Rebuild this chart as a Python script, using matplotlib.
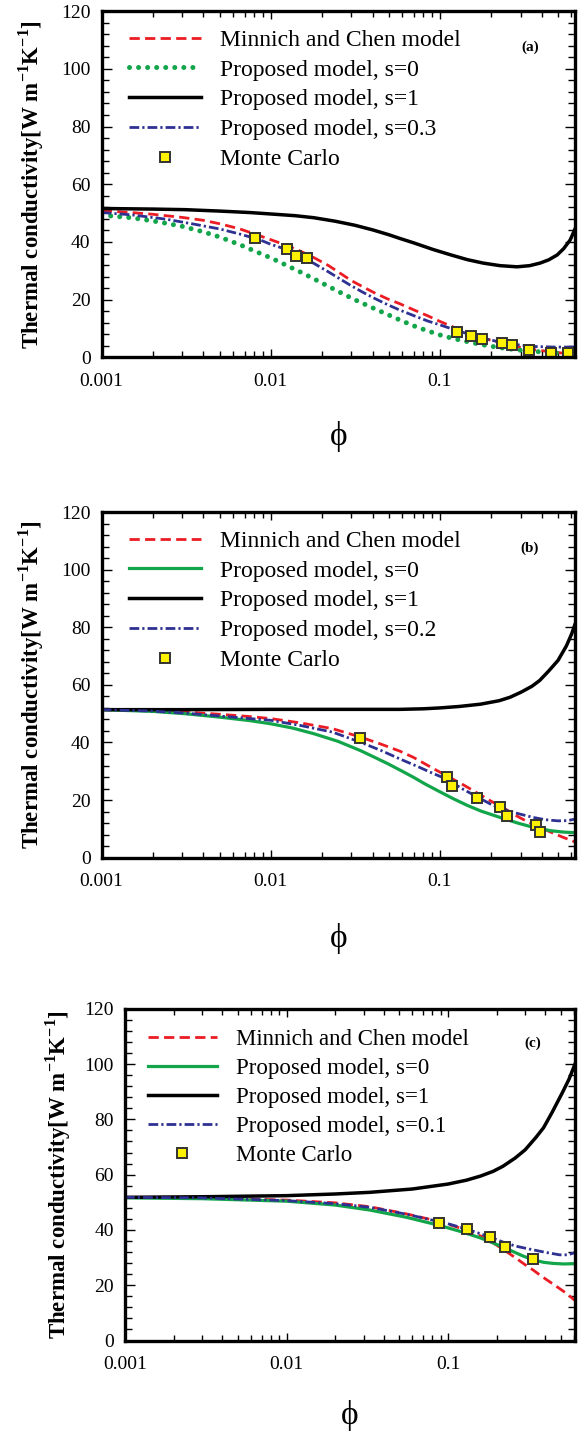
import numpy as np
import matplotlib
matplotlib.use('Agg')
import matplotlib.pyplot as plt
from matplotlib.ticker import FixedLocator, LogLocator, MultipleLocator, NullFormatter

plt.rcParams['font.family'] = ['Liberation Serif', 'DejaVu Serif']
plt.rcParams['mathtext.fontset'] = 'custom'
plt.rcParams['mathtext.rm'] = 'Liberation Serif'
plt.rcParams['mathtext.bf'] = 'Liberation Serif:bold'

RED = '#ec1c24'
GREEN = '#12a54a'
BLUE = '#2e3192'

x_ticks = [0.001, 0.01, 0.1]
x_tick_labels = ['0.001', '0.01', '0.1']
y_ticks = [0, 20, 40, 60, 80, 100, 120]

# ---- panel (a), s=0.3 ----
a_red_phi = [0.001, 0.0015, 0.002, 0.003, 0.004, 0.005, 0.0065, 0.008, 0.01, 0.0127, 0.015, 0.0181, 0.022,
             0.026, 0.03, 0.035, 0.041, 0.049, 0.058, 0.07, 0.085, 0.1, 0.125, 0.15, 0.18, 0.22, 0.286, 0.35,
             0.448, 0.63]
a_red_k = [50.8, 50.2, 49.6, 48.5, 47.5, 46.3, 44.6, 42.8, 40.8, 38.6, 36.8, 34.5, 31.8,
           29.0, 26.6, 24.5, 22.4, 20.3, 18.6, 16.5, 14.4, 12.5, 10.1, 8.4, 6.7, 5.3, 3.7, 2.8,
           2.0, 1.0]
a_green_phi = [0.001, 0.0015, 0.002, 0.0025, 0.003, 0.004, 0.005, 0.0066, 0.008, 0.01, 0.012, 0.0145, 0.0175,
               0.021, 0.026, 0.0314, 0.04, 0.0494, 0.06, 0.074, 0.09, 0.105, 0.13, 0.174, 0.22, 0.288, 0.38,
               0.476, 0.63]
a_green_k = [49.3, 48.4, 47.3, 46.3, 45.4, 43.5, 41.7, 39.0, 36.9, 34.5, 32.3, 30.0, 27.6,
             25.2, 22.4, 20.0, 17.2, 14.8, 12.6, 10.4, 8.7, 7.4, 6.1, 4.5, 3.5, 2.6, 2.0,
             1.6, 1.4]
a_black_phi = [0.001, 0.002, 0.0031, 0.005, 0.0075, 0.01, 0.014, 0.018, 0.024, 0.0314, 0.04, 0.05, 0.0582,
               0.07, 0.0912, 0.115, 0.145, 0.18, 0.227, 0.286, 0.34, 0.392, 0.44, 0.494, 0.54, 0.59, 0.63]
a_black_k = [51.6, 51.4, 51.2, 50.7, 50.2, 49.7, 49.1, 48.4, 47.2, 45.8, 44.2, 42.5, 41.2,
             39.7, 37.4, 35.6, 33.9, 32.7, 31.8, 31.4, 31.8, 32.7, 33.8, 35.5, 37.7, 40.7, 44.5]
a_blue_phi = [0.001, 0.0015, 0.0024, 0.0035, 0.005, 0.0065, 0.0085, 0.01, 0.0127, 0.015, 0.0181, 0.022, 0.026,
              0.03, 0.035, 0.041, 0.049, 0.058, 0.07, 0.085, 0.1, 0.125, 0.15, 0.174, 0.22, 0.288, 0.36,
              0.476, 0.63]
a_blue_k = [50.2, 49.4, 47.9, 46.2, 44.5, 42.8, 40.9, 39.2, 37.2, 35.0, 32.5, 29.6, 27.0,
            24.8, 22.6, 20.5, 18.3, 16.4, 14.5, 12.6, 11.3, 9.4, 8.0, 6.9, 5.5, 4.4, 3.8,
            3.6, 3.6]
a_mc_phi = [0.00807, 0.01245, 0.01406, 0.01633, 0.1256, 0.1524, 0.1774, 0.2317, 0.268, 0.337, 0.452, 0.574]
a_mc_k = [41.5, 37.4, 35.3, 34.4, 8.9, 7.4, 6.4, 5.1, 4.2, 2.6, 1.5, 1.7]

# ---- panel (b), s=0.2 ----
b_red_phi = [0.001, 0.002, 0.0031, 0.005, 0.0075, 0.01, 0.015, 0.0232, 0.0339, 0.045, 0.058, 0.07, 0.0912,
             0.11, 0.135, 0.165, 0.2, 0.236, 0.285, 0.33, 0.37, 0.448, 0.53, 0.63]
b_red_k = [51.4, 51.1, 50.6, 49.8, 49.0, 48.3, 46.8, 44.8, 41.9, 39.4, 37.0, 34.8, 31.0,
           28.4, 25.6, 22.6, 19.7, 17.4, 14.5, 12.5, 11.2, 9.0, 7.2, 5.5]
b_green_phi = [0.001, 0.002, 0.0031, 0.005, 0.0075, 0.01, 0.0135, 0.0181, 0.025, 0.0339, 0.042, 0.0494, 0.06,
               0.07, 0.0818, 0.1, 0.12, 0.145, 0.175, 0.227, 0.29, 0.36, 0.45, 0.54, 0.63]
b_green_k = [51.4, 50.8, 50.0, 48.8, 47.6, 46.5, 45.0, 43.0, 40.4, 37.2, 34.6, 32.6, 30.0,
             27.9, 25.6, 22.9, 20.5, 18.2, 16.2, 14.0, 12.0, 10.5, 9.4, 8.9, 8.7]
b_black_phi = [0.001, 0.003, 0.01, 0.03, 0.058, 0.08, 0.1, 0.13, 0.174, 0.224, 0.26, 0.303, 0.35, 0.389,
               0.44, 0.5, 0.56, 0.6, 0.63]
b_black_k = [51.4, 51.4, 51.5, 51.5, 51.5, 51.7, 52.0, 52.5, 53.3, 54.5, 55.7, 57.5, 59.5, 61.5,
             64.8, 68.5, 73.5, 77.5, 81.0]
b_blue_phi = [0.001, 0.002, 0.0031, 0.005, 0.0075, 0.01, 0.015, 0.0232, 0.0339, 0.045, 0.058, 0.075, 0.09,
              0.1096, 0.135, 0.174, 0.2, 0.227, 0.26, 0.3, 0.356, 0.42, 0.5, 0.57, 0.63]
b_blue_k = [51.4, 50.9, 50.2, 49.2, 48.3, 47.7, 45.9, 43.6, 40.1, 37.2, 34.3, 31.5, 29.4,
            27.3, 24.0, 20.5, 18.6, 17.2, 16.1, 15.1, 14.0, 13.2, 12.8, 12.9, 13.4]
b_mc_phi = [0.0336, 0.1096, 0.1183, 0.1662, 0.2265, 0.250, 0.370, 0.391]
b_mc_k = [41.6, 27.9, 25.0, 20.8, 17.5, 14.5, 11.3, 8.9]

# ---- panel (c), s=0.1 ----
c_red_phi = [0.001, 0.003, 0.01, 0.02, 0.0327, 0.0553, 0.0889, 0.12, 0.159, 0.19, 0.219, 0.26, 0.3, 0.336,
             0.38, 0.412, 0.468, 0.536, 0.61]
c_red_k = [51.8, 51.6, 50.8, 49.8, 48.4, 45.8, 43.0, 40.6, 37.8, 35.3, 33.0, 30.0, 27.4, 25.5,
           23.2, 21.8, 19.6, 17.2, 14.5]
c_green_phi = [0.001, 0.003, 0.01, 0.02, 0.0327, 0.055, 0.0889, 0.12, 0.157, 0.19, 0.218, 0.252, 0.29,
               0.336, 0.39, 0.446, 0.52, 0.61]
c_green_k = [51.6, 51.3, 50.4, 49.0, 47.2, 44.6, 41.6, 39.4, 37.2, 35.3, 33.8, 32.2, 30.6,
             29.2, 28.3, 27.9, 27.7, 27.8]
c_black_phi = [0.001, 0.003, 0.01, 0.02, 0.0327, 0.06, 0.1, 0.13, 0.159, 0.19, 0.218, 0.26, 0.3, 0.35,
               0.39, 0.44, 0.508, 0.56, 0.61]
c_black_k = [51.8, 52.0, 52.4, 53.0, 53.6, 54.8, 56.6, 58.0, 59.5, 61.2, 63.0, 66.0, 69.0, 73.5,
             77.0, 82.5, 89.5, 94.5, 100.0]
c_blue_phi = [0.001, 0.003, 0.01, 0.02, 0.0327, 0.055, 0.0977, 0.13, 0.159, 0.19, 0.219, 0.26, 0.3, 0.336,
              0.4, 0.49, 0.55, 0.61]
c_blue_k = [51.8, 51.6, 50.6, 49.5, 48.2, 45.7, 42.4, 40.3, 38.6, 37.0, 35.6, 34.2, 33.4, 32.8,
            31.9, 31.0, 31.0, 31.8]
c_mc_phi = [0.0876, 0.131, 0.181, 0.224, 0.333]
c_mc_k = [42.6, 40.3, 37.4, 34.0, 29.5]


def panel(rect, tag, s_label, green_dotted, red, green, black, blue, mc, xmax,
          phi_y, leg_anchor, leg_fs):
    ax = fig.add_axes(rect)
    ax.set_xscale('log')
    gls = (0, (0.01, 1.8)) if green_dotted else '-'
    glw = 3.6 if green_dotted else 2.3
    ax.plot(red[0], red[1], color=RED, lw=2.0, ls=(0, (3.7, 1.9)),
            label='Minnich and Chen model')
    ax.plot(green[0], green[1], color=GREEN, lw=glw, ls=gls, dash_capstyle='round',
            label='Proposed model, s=0')
    ax.plot(black[0], black[1], color='black', lw=2.5, label='Proposed model, s=1')
    ax.plot(blue[0], blue[1], color=BLUE, lw=2.0, ls=(0, (3.5, 1.1, 0.8, 1.1)),
            label='Proposed model, s=' + s_label)
    ax.plot(mc[0], mc[1], ls='none', marker='s', ms=6.5, mfc='#fff200',
            mec='#333333', mew=1.4, label='Monte Carlo')

    ax.set_xlim(0.001, xmax)
    ax.set_ylim(0, 120)
    ax.xaxis.set_major_locator(FixedLocator(x_ticks))
    ax.set_xticklabels(x_tick_labels)
    ax.xaxis.set_minor_locator(LogLocator(base=10, subs=np.arange(2, 10)))
    ax.xaxis.set_minor_formatter(NullFormatter())
    ax.yaxis.set_major_locator(FixedLocator(y_ticks))
    ax.yaxis.set_minor_locator(MultipleLocator(4))
    ax.tick_params(which='both', direction='in', top=True, right=True,
                   labelsize=14, width=1.0)
    ax.tick_params(axis='y', which='major', length=7, pad=8)
    ax.tick_params(axis='y', which='minor', length=5)
    ax.tick_params(axis='x', which='major', length=6, pad=11)
    ax.tick_params(axis='x', which='minor', length=4)
    for sp in ax.spines.values():
        sp.set_linewidth(2.4)

    ax.legend(loc='upper left', bbox_to_anchor=leg_anchor, frameon=False,
              fontsize=leg_fs, handlelength=3.05, handletextpad=0.8,
              labelspacing=0.35, borderpad=0, borderaxespad=0)
    ax.text(0.905, 0.895, tag, transform=ax.transAxes, fontsize=11,
            fontweight='bold', ha='center', va='center')
    ax.text(-0.148, 0.5, 'Thermal conductivity[W m$^{\\mathbf{-1}}$K$^{\\mathbf{-1}}$]',
            transform=ax.transAxes, rotation=90, ha='center', va='center',
            fontsize=16.5, fontweight='bold')
    ax.text(0.5, phi_y, '\u03d5', transform=ax.transAxes, ha='center',
            va='center', fontsize=24)
    return ax


fig = plt.figure(figsize=(5.79, 14.31), dpi=100)

panel([0.1756, 0.7502, 0.8175, 0.2421], '(a)', '0.3', True,
      (a_red_phi, a_red_k), (a_green_phi, a_green_k),
      (a_black_phi, a_black_k), (a_blue_phi, a_blue_k),
      (a_mc_phi, a_mc_k), 0.63, -0.227, (0.057, 0.947), 17)
panel([0.1756, 0.4006, 0.8175, 0.2416], '(b)', '0.2', False,
      (b_red_phi, b_red_k), (b_green_phi, b_green_k),
      (b_black_phi, b_black_k), (b_blue_phi, b_blue_k),
      (b_mc_phi, b_mc_k), 0.63, -0.233, (0.057, 0.947), 17)
panel([0.2159, 0.0632, 0.7772, 0.2319], '(c)', '0.1', False,
      (c_red_phi, c_red_k), (c_green_phi, c_green_k),
      (c_black_phi, c_black_k), (c_blue_phi, c_blue_k),
      (c_mc_phi, c_mc_k), 0.61, -0.225, (0.05, 0.94), 16.5)

fig.savefig('out.png', dpi=100)
